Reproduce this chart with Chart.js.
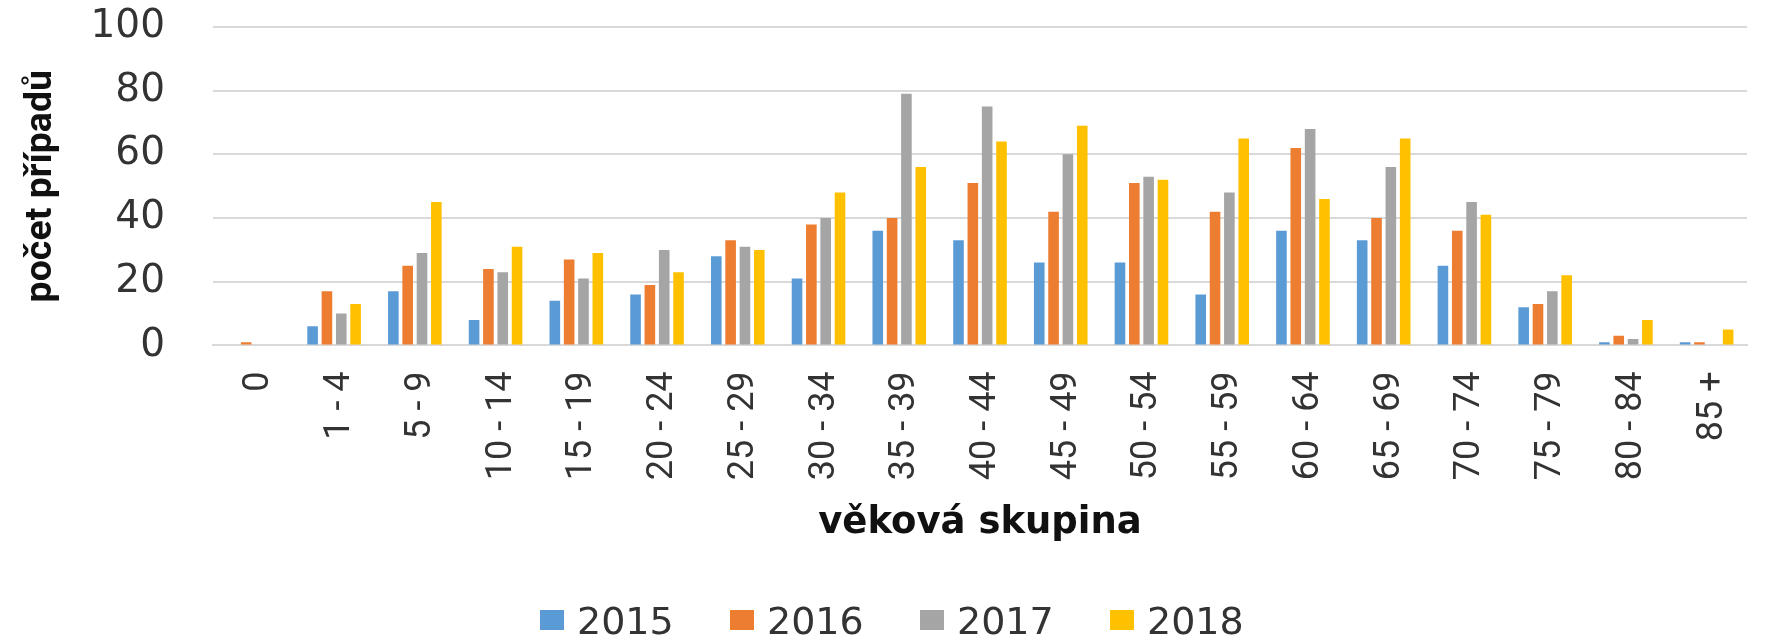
<!DOCTYPE html>
<html>
<head>
<meta charset="utf-8">
<script src="https://cdn.jsdelivr.net/npm/chart.js@4.4.1/dist/chart.umd.min.js"></script>
<style>
html,body{margin:0;padding:0;background:#fff;overflow:hidden}
canvas{display:block}
</style>
</head>
<body>
<canvas id="c" width="1773" height="642"></canvas>
<script>
const categories = ['0','1 - 4','5 - 9','10 - 14','15 - 19','20 - 24','25 - 29','30 - 34','35 - 39','40 - 44','45 - 49','50 - 54','55 - 59','60 - 64','65 - 69','70 - 74','75 - 79','80 - 84','85 +'];
const seriesNames = ['2015','2016','2017','2018'];
const values2015 = [0, 6, 17, 8, 14, 16, 28, 21, 36, 33, 26, 26, 16, 36, 33, 25, 12, 1, 1];
const values2016 = [1, 17, 25, 24, 27, 19, 33, 38, 40, 51, 42, 51, 42, 62, 40, 36, 13, 3, 1];
const values2017 = [0, 10, 29, 23, 21, 30, 31, 40, 79, 75, 60, 53, 48, 68, 56, 45, 17, 2, 0];
const values2018 = [0, 13, 45, 31, 29, 23, 30, 48, 56, 64, 69, 52, 65, 46, 65, 41, 22, 8, 5];
const yTickValues = [0, 20, 40, 60, 80, 100];
const xAxisTitle = 'věková skupina';
const yAxisTitle = 'počet případů';
const colors = ['#5b9bd5', '#ed7d31', '#a5a5a5', '#ffc000'];

const allValues = [values2015, values2016, values2017, values2018];

const legendPlugin = {
  id: 'bottomLegend',
  afterDraw(chart) {
    const ctx = chart.ctx;
    ctx.save();
    ctx.font = "38px 'DejaVu Sans', sans-serif";
    ctx.textAlign = 'left';
    ctx.textBaseline = 'alphabetic';
    const boxW = 24, boxH = 20, gap = 13, step = 190, x0 = 540, cy = 620;
    chart.data.datasets.forEach((ds, i) => {
      const x = x0 + i * step;
      ctx.fillStyle = ds.backgroundColor;
      ctx.fillRect(x, cy - boxH / 2, boxW, boxH);
      ctx.fillStyle = '#333333';
      ctx.fillText(ds.label, x + boxW + gap, cy + 14);
    });
    ctx.restore();
  }
};

new Chart(document.getElementById('c'), {
  type: 'bar',
  data: {
    labels: categories,
    datasets: seriesNames.map((name, i) => ({
      label: name,
      data: allValues[i],
      backgroundColor: colors[i],
      borderWidth: 0,
      categoryPercentage: 0.71,
      barPercentage: 0.74
    }))
  },
  options: {
    responsive: false,
    animation: false,
    devicePixelRatio: 1,
    layout: { padding: { top: 27, left: 0, right: 26, bottom: 96 } },
    plugins: {
      legend: { display: false },
      tooltip: { enabled: false }
    },
    scales: {
      x: {
        grid: { display: false, drawTicks: false },
        border: { display: true, color: '#d9d9d9', width: 2 },
        ticks: {
          autoSkip: false,
          minRotation: 90,
          maxRotation: 90,
          padding: 26,
          labelOffset: 6,
          color: '#333333',
          font: { family: "Roboto, sans-serif", size: 36 }
        },
        title: {
          display: true,
          text: xAxisTitle,
          color: '#111111',
          padding: { top: 0, bottom: 0 },
          font: { family: "'DejaVu Sans', sans-serif", size: 37, weight: 'bold' }
        },
        afterFit(scale) { scale.height = 200.6; scale.paddingLeft = 0; scale.paddingRight = 0; }
      },
      y: {
        min: 0,
        max: 100,
        grid: { color: '#d9d9d9', lineWidth: 2, drawTicks: false },
        border: { display: false },
        afterBuildTicks(scale) { scale.ticks = yTickValues.map(v => ({ value: v })); },
        ticks: {
          padding: 48,
          color: '#333333',
          font: { family: "'DejaVu Sans', sans-serif", size: 39 }
        },
        title: {
          display: true,
          text: yAxisTitle,
          color: '#111111',
          padding: { top: 19, bottom: 0 },
          font: { family: "Roboto, sans-serif", size: 37.5, weight: 'bold' }
        },
        afterFit(scale) { scale.width = 213; scale.paddingTop = 0; scale.paddingBottom = 0; }
      }
    }
  },
  plugins: [legendPlugin]
});
</script>
</body>
</html>
